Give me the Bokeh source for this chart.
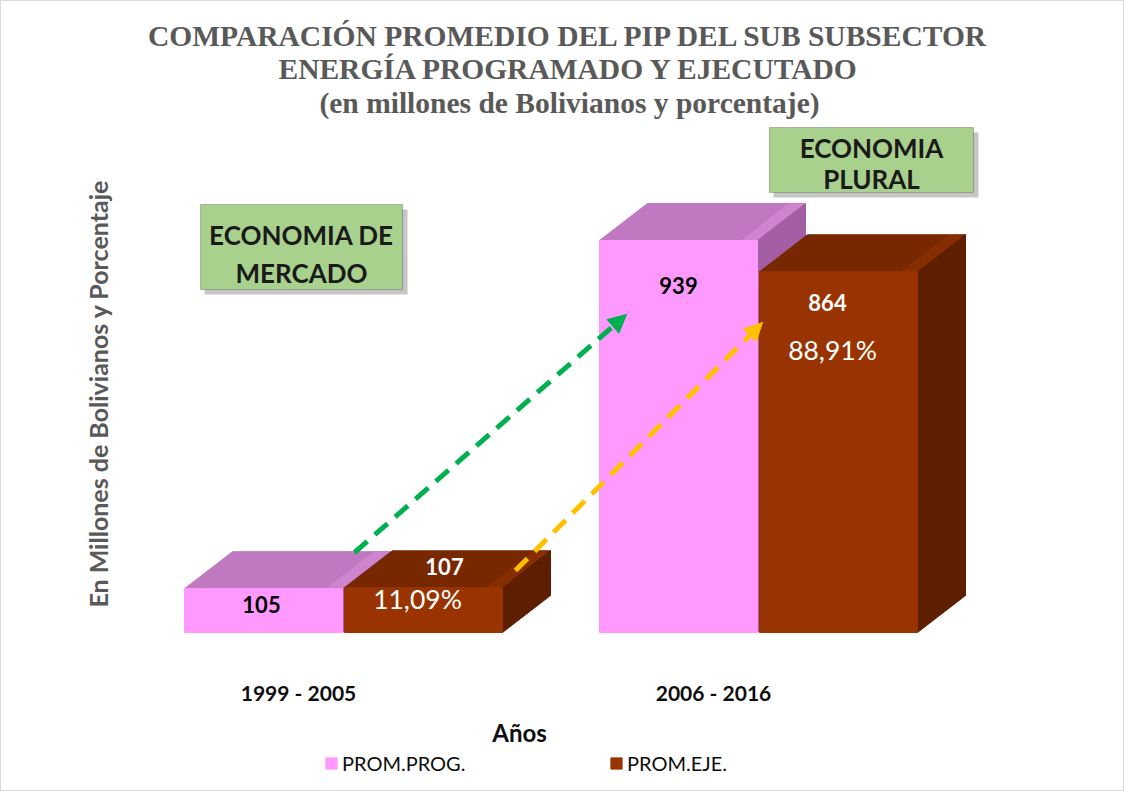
from math import pi
from bokeh.plotting import figure
from bokeh.models import (Range1d, ColumnDataSource, Label, Arrow, NormalHead,
                          BoxAnnotation, Legend, LegendItem)
from bokeh.core.properties import value
from bokeh.embed import file_html
from bokeh.resources import INLINE

# ---------------- data ----------------
categories = ["1999 - 2005", "2006 - 2016"]
series_names = ["PROM.PROG.", "PROM.EJE."]
prom_prog = [105, 939]
prom_eje = [107, 864]
pct_eje = ["11,09%", "88,91%"]
title_lines = ["COMPARACIÓN PROMEDIO DEL PIP DEL SUB SUBSECTOR",
               "ENERGÍA PROGRAMADO Y EJECUTADO",
               "(en millones de Bolivianos y porcentaje)"]
x_title = "Años"
y_title = "En Millones de Bolivianos y Porcentaje"
period_lines = [["ECONOMIA DE", "MERCADO"], ["ECONOMIA", "PLURAL"]]

# ---------------- layout / style ----------------
W, H = 1124, 791
PX_PER_CAT = 415.0      # pixels per category step
PX_PER_VAL = 0.4175     # pixels per value unit
CAT0_IMG = 306          # image x of first category
BASE_IMG = 640          # image y of value 0


def X(img_x):
    return (img_x - CAT0_IMG) / PX_PER_CAT


def Y(img_y):
    return (BASE_IMG - img_y) / PX_PER_VAL


BAR_W = 158 / PX_PER_CAT
GAP = 2 / PX_PER_CAT
OFF0 = (192 - CAT0_IMG) / PX_PER_CAT
DX = 48 / PX_PER_CAT
DY = 37 / PX_PER_VAL

colors = [
    dict(front="#FF99FF", top="#C079C0", side="#A45FA4", hi="#D287D2"),
    dict(front="#993300", top="#772800", side="#5E1F00", hi="#8A3000"),
]

p = figure(width=W, height=H, output_backend="svg", toolbar_location=None,
           x_range=Range1d(X(8), X(8 + W)), y_range=Range1d(Y(8 + H), Y(8)),
           x_axis_location=None, y_axis_location=None, min_border=0,
           background_fill_color="white", border_fill_color="white")
p.xgrid.visible = False
p.ygrid.visible = False
p.outline_line_color = "#D9D9D9"

front_renderers = []
for s, vals in enumerate([prom_prog, prom_eje]):
    c = colors[s]
    lefts = [i + OFF0 + s * (BAR_W + GAP) for i in range(len(categories))]
    rights = [l + BAR_W for l in lefts]
    top_xs = [[l, r, r + DX, l + DX] for l, r in zip(lefts, rights)]
    top_ys = [[v, v, v + DY, v + DY] for v in vals]
    side_xs = [[r, r + DX, r + DX, r] for r in rights]
    side_ys = [[0, DY, v + DY, v] for v in vals]
    p.patches(top_xs, top_ys, fill_color=c["top"], line_color=c["top"], line_width=1)
    # bevel highlight on the top face near the side edge
    bev_xs = [[r - DX * 0.35, r, r + DX, r + DX * 0.65] for r in rights]
    bev_ys = [[v, v, v + DY, v + DY] for v in vals]
    p.patches(bev_xs, bev_ys, fill_color=c["hi"], line_color=None, fill_alpha=0.8)
    p.patches(side_xs, side_ys, fill_color=c["side"], line_color=c["side"], line_width=1)
    fr = p.quad(left=lefts, right=rights, bottom=0, top=vals,
                fill_color=c["front"], line_color=c["front"], line_width=1)
    front_renderers.append(fr)

# value labels (positions are layout, text from data)
val_pos = [[(269, 612), (686, 293)], [(452, 574), (835, 310)]]
val_col = [["#000000", "#000000"], ["#FFFFFF", "#FFFFFF"]]
for s, vals in enumerate([prom_prog, prom_eje]):
    src = ColumnDataSource(dict(
        x=[X(px) for px, _ in val_pos[s]],
        y=[Y(py) for _, py in val_pos[s]],
        t=[str(v) for v in vals],
        c=val_col[s]))
    p.text(x="x", y="y", text="t", source=src, text_color="c",
           text_font=value("Lato"), text_font_style="bold", text_font_size="22px",
           text_align="center", text_baseline="middle")

pct_pos = [(425, 606), (840, 357)]
psrc = ColumnDataSource(dict(x=[X(a) for a, _ in pct_pos], y=[Y(b) for _, b in pct_pos], t=pct_eje))
p.text(x="x", y="y", text="t", source=psrc, text_color="#FFFFFF",
       text_font=value("Lato"), text_font_size="26.5px",
       text_align="center", text_baseline="middle")

# category labels
csrc = ColumnDataSource(dict(x=list(range(len(categories))), y=[Y(700)] * len(categories), t=categories))
p.text(x="x", y="y", text="t", source=csrc, text_color="#0D0D0D",
       text_font=value("Lato"), text_font_style="bold", text_font_size="21px",
       text_align="center", text_baseline="middle")

# arrows
p.add_layout(Arrow(end=NormalHead(size=18, fill_color="#00B050", line_color="#00B050"),
                   x_start=X(362), y_start=Y(560), x_end=X(634), y_end=Y(322),
                   line_color="#00B050", line_width=5, line_dash="17 10"))
p.add_layout(Arrow(end=NormalHead(size=18, fill_color="#FFC000", line_color="#FFC000"),
                   x_start=X(523), y_start=Y(578), x_end=X(770), y_end=Y(330),
                   line_color="#FFC000", line_width=5, line_dash="17 10"))

# period boxes
boxes = [(208, 410, 212, 297), (777, 981, 135, 200)]
line_y = [(242, 280), (155, 186)]
for (l, r, t, b), lines, ys in zip(boxes, period_lines, line_y):
    p.add_layout(BoxAnnotation(left=X(l + 4), right=X(r + 5), top=Y(t + 5), bottom=Y(b + 5),
                               fill_color="#808080", fill_alpha=0.45, line_color=None))
    p.add_layout(BoxAnnotation(left=X(l), right=X(r), top=Y(t), bottom=Y(b),
                               fill_color="#A9D18E", fill_alpha=1.0,
                               line_color="#3A3A3A", line_width=1.2))
    for txt, yy in zip(lines, ys):
        p.add_layout(Label(x=X((l + r) / 2), y=Y(yy), text=txt, text_font="Lato",
                           text_font_style="bold", text_font_size="26px",
                           text_color="#1A1A1A", text_align="center", text_baseline="middle"))

# titles
for txt, yy in zip(title_lines, [43, 76, 110]):
    p.add_layout(Label(x=X(577), y=Y(yy), text=txt, text_font="Liberation Serif",
                       text_font_style="bold", text_font_size="29.5px", text_color="#595959",
                       text_align="center", text_baseline="middle"))

# axis titles
p.add_layout(Label(x=X(527), y=Y(740), text=x_title, text_font="Lato", text_font_style="bold",
                   text_font_size="24px", text_color="#0D0D0D",
                   text_align="center", text_baseline="middle"))
p.add_layout(Label(x=X(105), y=Y(401), text=y_title, text_font="Lato", text_font_style="bold",
                   text_font_size="25px", text_color="#595959", angle=pi / 2,
                   text_align="center", text_baseline="middle"))

# legends
leg_x = [332, 617]
for name, rend, lx in zip(series_names, front_renderers, leg_x):
    leg = Legend(items=[LegendItem(label=name, renderers=[rend])],
                 location=(lx - 8, 16), orientation="horizontal",
                 glyph_width=14, glyph_height=14, label_standoff=4, label_height=20,
                 label_text_font="Lato", label_text_font_size="20px", label_text_color="#0D0D0D",
                 padding=0, margin=0, spacing=0, border_line_color=None,
                 background_fill_alpha=0)
    p.add_layout(leg)

open("out.html", "w").write(file_html(p, INLINE))
